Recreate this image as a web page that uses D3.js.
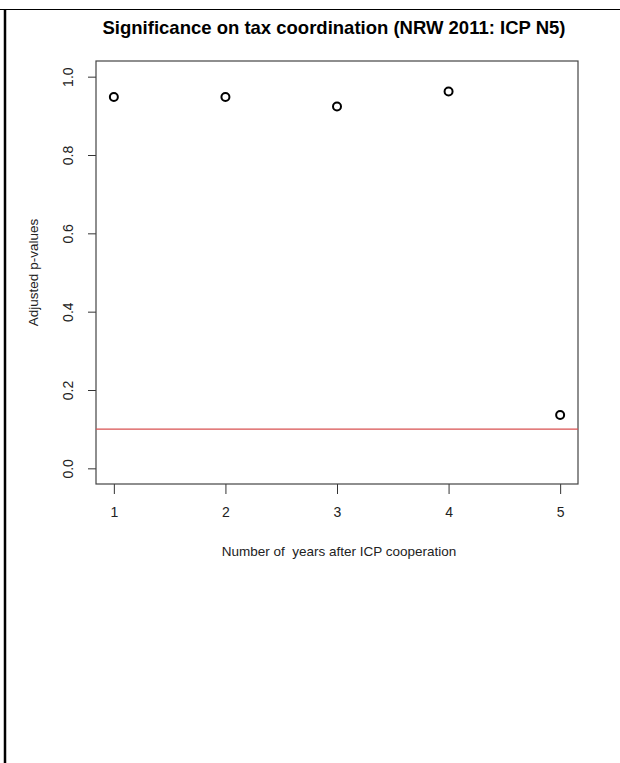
<!DOCTYPE html>
<html><head><meta charset="utf-8">
<script src="https://cdn.jsdelivr.net/npm/d3@7"></script>
<style>body{margin:0;background:#fff}svg{display:block;font-family:"Liberation Sans",Arial,sans-serif}</style>
</head><body>
<script>
const years = [1, 2, 3, 4, 5];
const pValues = [0.948, 0.948, 0.924, 0.962, 0.136];
const threshold = 0.1;
const xTicks = [1, 2, 3, 4, 5];
const yTicks = [0.0, 0.2, 0.4, 0.6, 0.8, 1.0];
const title = "Significance on tax coordination (NRW 2011: ICP N5)";
const xLabel = "Number of  years after ICP cooperation";
const yLabel = "Adjusted p-values";

const W = 620, H = 763;
const box = {left: 96, right: 578, top: 61, bottom: 484};
const FONT = "Liberation Sans, Arial, sans-serif";
const svg = d3.select("body").append("svg").attr("width", W).attr("height", H);

// page frame lines
svg.append("line").attr("x1", 0).attr("x2", W).attr("y1", 9.5).attr("y2", 9.5).attr("stroke", "#000").attr("stroke-width", 1.2);
svg.append("line").attr("x1", 5).attr("x2", 5).attr("y1", 10).attr("y2", H).attr("stroke", "#000").attr("stroke-width", 2.5);

const x = d3.scaleLinear().domain([0.84, 5.16]).range([box.left, box.right]);
const y = d3.scaleLinear().domain([-0.04, 1.04]).range([box.bottom, box.top]);

// x axis
const xAxis = svg.append("g").attr("transform", `translate(0,${box.bottom})`)
  .call(d3.axisBottom(x).tickValues(xTicks).tickFormat(d3.format("d")).tickSize(10).tickPadding(13));
xAxis.attr("font-size", null).attr("font-family", null);
xAxis.select(".domain").remove();
xAxis.selectAll("line").attr("stroke", "#333");
xAxis.selectAll("text").style("font-size", "14px").attr("fill", "#222").style("font-family", FONT);

// y axis
const yAxis = svg.append("g").attr("transform", `translate(${box.left},0)`)
  .call(d3.axisLeft(y).tickValues(yTicks).tickFormat(d3.format(".1f")).tickSize(8));
yAxis.attr("font-size", null).attr("font-family", null);
yAxis.select(".domain").remove();
yAxis.selectAll("line").attr("stroke", "#333");
yAxis.selectAll("text").remove();
yAxis.selectAll(".tick").append("text")
  .attr("transform", "translate(-28,0) rotate(-90)")
  .attr("text-anchor", "middle").attr("dy", "0.35em")
  .style("font-size", "14px").attr("fill", "#222")
  .style("font-family", FONT)
  .text(d => d3.format(".1f")(d));

// plot box
svg.append("rect").attr("x", box.left).attr("y", box.top)
  .attr("width", box.right - box.left).attr("height", box.bottom - box.top)
  .attr("fill", "none").attr("stroke", "#444").attr("stroke-width", 1.2);

// threshold line
svg.append("line").attr("x1", box.left).attr("x2", box.right)
  .attr("y1", y(threshold)).attr("y2", y(threshold))
  .attr("stroke", "#d85050").attr("stroke-width", 1.2);

// points
svg.selectAll("circle.pt").data(years).enter().append("circle")
  .attr("class", "pt")
  .attr("cx", (d) => x(d)).attr("cy", (d, i) => y(pValues[i]))
  .attr("r", 4).attr("fill", "none").attr("stroke", "#000").attr("stroke-width", 2);

// titles
svg.append("text").attr("x", 334).attr("y", 34).attr("text-anchor", "middle")
  .style("font-size", "18.5px").attr("font-weight", "bold").attr("fill", "#000").text(title);
svg.append("text").attr("x", 339).attr("y", 556).attr("text-anchor", "middle")
  .style("font-size", "13.5px").attr("fill", "#222").style("white-space", "pre").text(xLabel);
svg.append("text").attr("transform", `translate(38,${(box.top + box.bottom) / 2}) rotate(-90)`)
  .attr("text-anchor", "middle").style("font-size", "13.5px").attr("fill", "#222").text(yLabel);
</script>
</body></html>
